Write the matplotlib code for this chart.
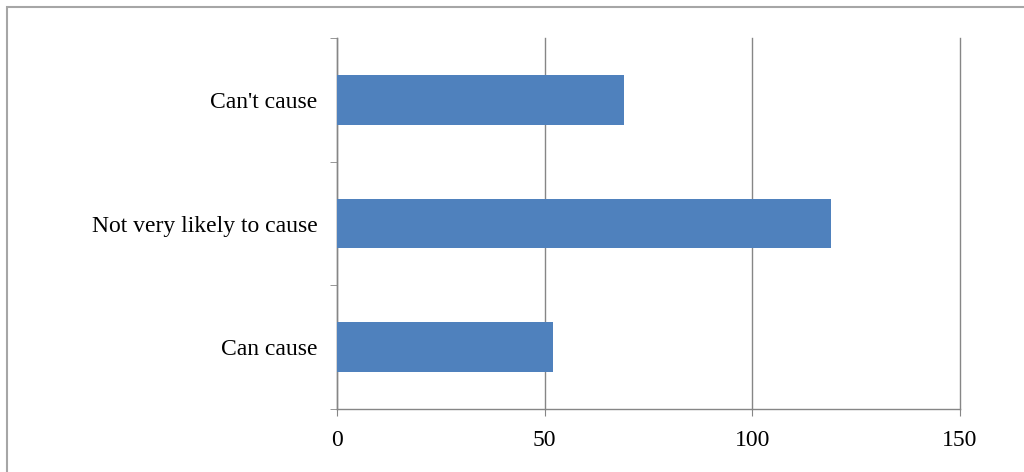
import matplotlib
matplotlib.use("Agg")
import matplotlib.pyplot as plt
from matplotlib.patches import Rectangle

categories = ["Can cause", "Not very likely to cause", "Can't cause"]
counts = [52, 119, 69]
x_ticks = [0, 50, 100, 150]

plt.rcParams['font.family'] = ['Liberation Serif', 'DejaVu Serif']

fig = plt.figure(figsize=(10.24, 4.72), dpi=100)
ax = fig.add_axes([337 / 1024, 1 - 409 / 472, (960 - 337) / 1024, (409 - 38) / 472])

grey = "#868686"
ypos = list(range(len(categories)))
ax.barh(ypos, counts, height=0.4, color="#4F81BD", zorder=3)

ax.set_xlim(0, 150)
ax.set_ylim(-0.5, len(categories) - 0.5)
ax.set_xticks(x_ticks)
ax.set_xticklabels([str(t) for t in x_ticks])
ax.set_yticks(ypos)
ax.set_yticklabels(categories)
ax.set_yticks([i - 0.5 for i in range(len(categories) + 1)], minor=True)

ax.grid(axis="x", color=grey, linewidth=1.0, zorder=0)
# keep the last gridline (at the right edge) fully visible
for line in ax.get_xgridlines():
    line.set_clip_on(False)
for side in ("top", "right"):
    ax.spines[side].set_visible(False)
for side in ("left", "bottom"):
    ax.spines[side].set_color(grey)
    ax.spines[side].set_linewidth(1.0)

ax.tick_params(axis="x", which="major", length=5, color=grey, labelsize=17, pad=10)
ax.tick_params(axis="y", which="major", length=0, labelsize=17, pad=14)
ax.tick_params(axis="y", which="minor", length=5, color=grey)

# outer frame around the chart area
fig.patches.append(Rectangle((7 / 1024, -0.1), 1.2, 1 - 7 / 472 + 0.1,
                             transform=fig.transFigure, fill=False,
                             edgecolor="#a6a6a6", linewidth=1.5))

fig.savefig("out.png", dpi=100, facecolor="white")
